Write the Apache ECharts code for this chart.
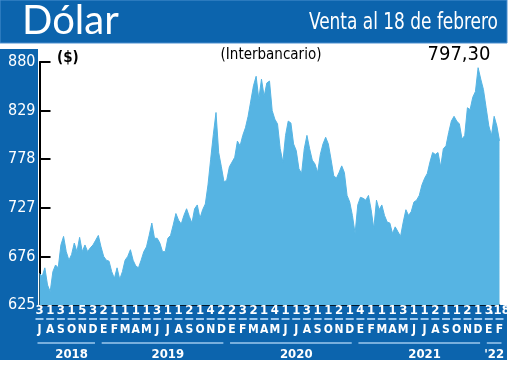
<!DOCTYPE html>
<html><head><meta charset="utf-8">
<script src="https://cdn.jsdelivr.net/npm/echarts@6/dist/echarts.min.js"></script>
<style>html,body{margin:0;padding:0;background:#fff}#c{width:520px;height:370px}</style>
</head><body><div id="c"></div>
<script>
// Weekly readings (4 per month) from July 2018 to 18 Feb 2022, CLP per USD
const weeklyValues = [
  658, 655, 664, 646,   639, 660, 667, 664,   688, 697, 681, 672,
  678, 690, 681, 696,   681, 688, 681, 685,   688, 693, 698, 686,
  676, 672, 671, 660,   653, 664, 652, 660,   672, 676, 683, 672,
  666, 664, 672, 681,   686, 698, 711, 695,   695, 690, 681, 681,
  695, 698, 709, 721,   714, 710, 719, 726,   718, 711, 726, 730,
  716, 725, 731, 751,   778, 804, 827, 785,   770, 754, 756, 770,
  775, 780, 797, 792,   803, 811, 823, 839,   855, 865, 841, 862,
  844, 858, 860, 829,   820, 815, 789, 775,   803, 818, 816, 794,
  787, 768, 763, 789,   803, 789, 777, 773,   764, 783, 794, 801,
  794, 778, 761, 758,   764, 771, 764, 740,   733, 719, 700, 730,
  738, 737, 735, 740,   725, 705, 735, 725,   730, 719, 712, 711,
  700, 707, 702, 697,   712, 725, 719, 723,   733, 735, 740, 751,
  758, 763, 775, 785,   783, 785, 770, 789,   792, 806, 818, 823,
  818, 815, 799, 803,   832, 830, 843, 849,   874, 862, 851, 832,
  813, 803, 823, 813,   797.3
];
const monthLetters = ['J','A','S','O','N','D',
  'E','F','M','A','M','J','J','A','S','O','N','D',
  'E','F','M','A','M','J','J','A','S','O','N','D',
  'E','F','M','A','M','J','J','A','S','O','N','D',
  'E','F'];
const monthDays = ['3','1','3','1','5','3',
  '2','1','1','1','1','3','1','1','2','1','4','2',
  '2','3','2','1','4','1','1','3','1','1','2','1',
  '4','1','1','1','3','1','1','2','1','1','2','1',
  '3','.18'];
const yearLabels = ['2018','2019','2020','2021',"'22"];
const yearFirstMonth = [0, 6, 18, 30, 42];
const yearLastMonth = [5, 17, 29, 41, 43];
const yTicks = [625, 676, 727, 778, 829, 880];
const lastValueLabel = '797,30';

const STEPS = 4;
const categories = weeklyValues.map((_, i) => String(i));
const NARROW = "'Liberation Sans Narrow','Arial Narrow','DejaVu Sans Condensed',sans-serif";
const BLUE = '#0c64ad';
const FILL = '#56b4e3';
const PALE = '#9cc8ee';

const chart = echarts.init(document.getElementById('c'), null, {renderer: 'canvas'});
const lastIdx = weeklyValues.length - 1;

chart.setOption({
  animation: false,
  backgroundColor: '#fff',
  grid: {left: 39.5, right: 20.5, top: 62, bottom: 65, containLabel: false},
  xAxis: {
    type: 'category', data: categories, boundaryGap: false,
    axisLine: {show: true, lineStyle: {color: '#000', width: 1.5}},
    axisTick: {show: false},
    splitLine: {show: false},
    axisLabel: {show: false}
  },
  yAxis: {
    type: 'value', min: 625, max: 880,
    axisLine: {show: true, lineStyle: {color: '#000', width: 2}},
    axisTick: {show: true, inside: true, length: 11, lineStyle: {color: '#000', width: 2}, customValues: yTicks.slice(1)},
    axisLabel: {color: '#fff', fontFamily: NARROW, fontSize: 16, margin: 4, customValues: yTicks},
    splitLine: {show: false}
  },
  series: [
    {
      type: 'line', data: weeklyValues, symbol: 'none', smooth: false,
      lineStyle: {width: 1, color: FILL},
      areaStyle: {color: FILL, opacity: 1, origin: 'start'},
      z: 2
    },
    {
      // month rows: day mark, month initial
      type: 'custom', clip: false, silent: true, z: 3,
      data: monthLetters.map((_, m) => [m, 625]),
      encode: {x: 0, y: 1},
      renderItem: (params, api) => {
        const m = api.value(0);
        const p = api.coord([m * STEPS, 625]);
        const x = p[0], yb = p[1];
        return {
          type: 'group',
          children: [
            {type: 'text', x: x, y: yb + 6, style: {text: monthDays[params.dataIndex], fill: '#fff', font: 'bold 13px ' + NARROW, align: 'center', verticalAlign: 'middle'}},
            {type: 'text', x: x, y: yb + 25, style: {text: monthLetters[params.dataIndex], fill: '#fff', font: 'bold 12px ' + NARROW, align: 'center', verticalAlign: 'middle'}}
          ]
        };
      }
    },
    {
      // short separators between the two month rows
      type: 'custom', clip: false, silent: true, z: 4,
      data: monthLetters.map((_, m) => [m, 625]),
      encode: {x: 0, y: 1},
      renderItem: (params, api) => {
        const p = api.coord([api.value(0) * STEPS, 625]);
        return {
          type: 'line',
          shape: {x1: p[0] - 4, y1: p[1] + 14, x2: p[0] + 4, y2: p[1] + 14},
          style: {stroke: PALE, lineWidth: 2, fill: null}
        };
      }
    },
    {
      type: 'custom', clip: false, silent: true, z: 3,
      data: yearLabels.map((_, i) => [yearFirstMonth[i], yearLastMonth[i], 625]),
      encode: {x: [0, 1], y: 2},
      renderItem: (params, api) => {
        const a = api.value(0), b = api.value(1);
        const x0 = api.coord([a * STEPS, 625])[0] - 2;
        const x1 = api.coord([b * STEPS, 625])[0] + 2;
        const yb = api.coord([0, 625])[1];
        const mid = (a + Math.min(b + 1, lastIdx / STEPS)) / 2;
        const xm = api.coord([mid * STEPS, 625])[0];
        return {
          type: 'group',
          children: [
            {type: 'line', shape: {x1: x0, y1: yb + 38, x2: x1, y2: yb + 38}, style: {stroke: PALE, lineWidth: 1.5}},
            {type: 'text', x: xm, y: yb + 50, style: {text: yearLabels[params.dataIndex], fill: '#fff', font: 'bold 13px ' + NARROW, align: 'center', verticalAlign: 'middle'}}
          ]
        };
      }
    }
  ],
  graphic: [
    {type: 'rect', z: -10, shape: {x: 0, y: 0, width: 507, height: 43}, style: {fill: BLUE, stroke: '#4a8fcf', lineWidth: 1}},
    {type: 'rect', z: -10, shape: {x: 0, y: 49, width: 38, height: 260}, style: {fill: BLUE}},
    {type: 'rect', z: -10, shape: {x: 0, y: 305, width: 507, height: 55}, style: {fill: BLUE}},
    {type: 'text', z: 10, x: 22, y: 21, style: {text: 'Dólar', fill: '#fff', font: '40px Lato, "Noto Sans", sans-serif', verticalAlign: 'middle'}},
    {type: 'text', z: 10, x: 498, y: 23, scaleX: 0.82, style: {text: 'Venta al 18 de febrero', fill: '#fff', font: '23px ' + NARROW, align: 'right', verticalAlign: 'middle'}},
    {type: 'text', z: 10, x: 57, y: 58, style: {text: '($)', fill: '#000', font: 'bold 15px ' + NARROW, verticalAlign: 'middle'}},
    {type: 'text', z: 10, x: 271, y: 55, style: {text: '(Interbancario)', fill: '#000', font: '15px ' + NARROW, align: 'center', verticalAlign: 'middle'}},
    {type: 'text', z: 10, x: 459, y: 55, style: {text: lastValueLabel, fill: '#000', font: '20px ' + NARROW, align: 'center', verticalAlign: 'middle'}}
  ]
});
</script></body></html>
